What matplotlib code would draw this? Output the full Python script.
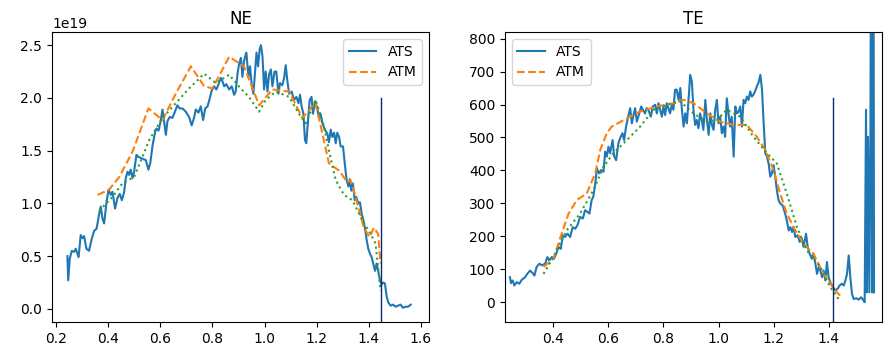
import numpy as np
import matplotlib
matplotlib.use("Agg")
import matplotlib.pyplot as plt

# ---- NE panel (values in 1e19) ----
ne_ats_x = [0.243, 0.246, 0.252, 0.26, 0.269, 0.275, 0.286, 0.294, 0.301, 0.307, 0.316, 0.326,
            0.337, 0.346, 0.355, 0.365, 0.371, 0.378, 0.384, 0.393, 0.401, 0.41, 0.416, 0.426,
            0.435, 0.444, 0.452, 0.461, 0.467, 0.474, 0.48, 0.486, 0.493, 0.499, 0.508, 0.516,
            0.525, 0.534, 0.544, 0.554, 0.561, 0.57, 0.58, 0.585, 0.593, 0.601, 0.608, 0.614,
            0.621, 0.627, 0.636, 0.646, 0.656, 0.665, 0.674, 0.685, 0.697, 0.71, 0.72, 0.729,
            0.736, 0.746, 0.755, 0.764, 0.772, 0.781, 0.79, 0.797, 0.806, 0.815, 0.823, 0.832,
            0.838, 0.845, 0.853, 0.864, 0.874, 0.883, 0.889, 0.896, 0.902, 0.909, 0.915, 0.921,
            0.930, 0.938, 0.944, 0.951, 0.957, 0.963, 0.969, 0.975, 0.981, 0.986, 0.992, 0.998,
            1.004, 1.011, 1.017, 1.024, 1.030, 1.038, 1.045, 1.053, 1.059, 1.068, 1.075, 1.081,
            1.087, 1.094, 1.104, 1.113, 1.122, 1.130, 1.136, 1.142, 1.149, 1.155, 1.160, 1.167,
            1.173, 1.180, 1.186, 1.194, 1.203, 1.209, 1.215, 1.222, 1.231, 1.241, 1.247, 1.254,
            1.260, 1.267, 1.273, 1.279, 1.286, 1.292, 1.301, 1.309, 1.315, 1.322, 1.327, 1.333,
            1.339, 1.346, 1.352, 1.360, 1.366, 1.373, 1.379, 1.385, 1.392, 1.398, 1.405, 1.411,
            1.417, 1.424, 1.430, 1.436, 1.443, 1.449, 1.456, 1.462, 1.469, 1.475, 1.484, 1.493,
            1.503, 1.513, 1.522, 1.531, 1.541, 1.551, 1.561]
ne_ats_y = [0.50, 0.27, 0.475, 0.55, 0.54, 0.57, 0.49, 0.70, 0.67, 0.69, 0.57, 0.55,
            0.67, 0.74, 0.76, 0.90, 0.97, 0.85, 0.81, 1.01, 1.13, 1.08, 1.11, 0.95,
            1.05, 1.09, 1.03, 1.11, 1.24, 1.30, 1.27, 1.32, 1.24, 1.30, 1.46, 1.44,
            1.43, 1.42, 1.41, 1.32, 1.38, 1.55, 1.68, 1.71, 1.69, 1.78, 1.89, 1.78,
            1.65, 1.78, 1.82, 1.81, 1.87, 1.93, 1.90, 1.90, 1.87, 1.82, 1.74, 1.81,
            1.89, 1.86, 1.92, 1.79, 1.90, 1.92, 2.00, 2.07, 2.11, 2.08, 2.13, 2.19,
            2.16, 2.11, 2.13, 2.08, 2.11, 2.03, 2.06, 2.23, 2.32, 2.38, 2.20, 2.35,
            2.43, 2.20, 2.30, 2.11, 2.04, 2.23, 2.43, 2.30, 2.46, 2.50, 2.39, 2.08,
            2.25, 2.06, 2.22, 2.27, 2.11, 2.25, 2.25, 2.04, 2.14, 2.12, 2.19, 2.31,
            2.17, 2.04, 2.06, 1.98, 2.01, 1.95, 2.03, 1.92, 1.85, 1.60, 1.57, 1.79,
            1.98, 2.01, 1.85, 1.97, 1.89, 1.81, 1.85, 1.76, 1.70, 1.66, 1.58, 1.70,
            1.63, 1.67, 1.57, 1.67, 1.63, 1.54, 1.54, 1.35, 1.22, 1.16, 1.23, 1.12,
            1.19, 1.03, 1.06, 1.00, 1.01, 0.90, 0.84, 0.77, 0.65, 0.57, 0.52, 0.49,
            0.43, 0.36, 0.43, 0.36, 0.27, 0.23, 0.25, 0.24, 0.11, 0.06, 0.03, 0.04,
            0.02, 0.03, 0.04, 0.01, 0.02, 0.02, 0.04]

ne_atm_x = [0.359, 0.403, 0.442, 0.493, 0.554, 0.608, 0.659, 0.717, 0.768, 0.800, 0.864,
            0.921, 0.979, 1.030, 1.094, 1.145, 1.196, 1.247, 1.286, 1.318, 1.330, 1.345,
            1.381, 1.403, 1.420, 1.436, 1.445]
ne_atm_y = [1.08, 1.13, 1.25, 1.49, 1.90, 1.79, 2.04, 2.30, 2.11, 2.09, 2.39,
            2.30, 1.93, 2.08, 2.06, 1.81, 1.95, 1.38, 1.31, 1.20, 1.22, 1.10,
            0.77, 0.68, 0.77, 0.71, 0.43]

ne_fit_x = [0.365, 0.416, 0.454, 0.499, 0.531, 0.557, 0.608, 0.659, 0.710, 0.768, 0.813,
            0.864, 0.908, 0.940, 0.979, 1.004, 1.043, 1.094, 1.132, 1.158, 1.196, 1.228,
            1.247, 1.273, 1.305, 1.337, 1.375, 1.407, 1.426, 1.445]
ne_fit_y = [0.93, 1.06, 1.19, 1.25, 1.44, 1.60, 1.81, 1.95, 2.09, 2.23, 2.14,
            2.22, 2.09, 2.01, 1.87, 1.98, 2.06, 2.01, 1.85, 1.76, 1.98, 1.73,
            1.50, 1.22, 1.08, 1.03, 0.84, 0.71, 0.62, 0.17]

ne_sep_x = 1.445
ne_sep_top = 2.0

# ---- TE panel ----
te_ats_x = [0.242, 0.246, 0.252, 0.258, 0.267, 0.276, 0.285, 0.297, 0.305, 0.315, 0.325, 0.331,
            0.339, 0.349, 0.358, 0.370, 0.378, 0.385, 0.394, 0.402, 0.41, 0.418, 0.427, 0.434,
            0.442, 0.451, 0.461, 0.47, 0.479, 0.487, 0.497, 0.507, 0.515, 0.524, 0.531, 0.539,
            0.545, 0.552, 0.558, 0.566, 0.573, 0.582, 0.588, 0.594, 0.60, 0.606, 0.615, 0.621,
            0.628, 0.636, 0.642, 0.651, 0.657, 0.664, 0.673, 0.679, 0.685, 0.691, 0.697, 0.703,
            0.712, 0.719, 0.725, 0.733, 0.739, 0.745, 0.754, 0.761, 0.770, 0.776, 0.782, 0.788,
            0.794, 0.80, 0.806, 0.812, 0.818, 0.824, 0.830, 0.836, 0.842, 0.848, 0.855, 0.861,
            0.867, 0.873, 0.879, 0.885, 0.891, 0.897, 0.903, 0.909, 0.915, 0.921, 0.927, 0.933,
            0.939, 0.945, 0.952, 0.958, 0.964, 0.970, 0.976, 0.982, 0.988, 0.994, 1.0, 1.006,
            1.012, 1.018, 1.024, 1.030, 1.036, 1.042, 1.048, 1.055, 1.061, 1.067, 1.073, 1.079,
            1.085, 1.091, 1.097, 1.103, 1.109, 1.115, 1.121, 1.127, 1.133, 1.139, 1.145, 1.152,
            1.158, 1.164, 1.170, 1.176, 1.182, 1.188, 1.194, 1.20, 1.206, 1.212, 1.218, 1.224,
            1.233, 1.242, 1.248, 1.255, 1.261, 1.267, 1.273, 1.279, 1.287, 1.295, 1.303, 1.309,
            1.318, 1.324, 1.331, 1.339, 1.345, 1.352, 1.358, 1.364, 1.370, 1.376, 1.382, 1.388,
            1.394, 1.40, 1.406, 1.416, 1.424, 1.433, 1.44, 1.448, 1.455, 1.461, 1.467, 1.473,
            1.479, 1.485, 1.491, 1.501, 1.509, 1.518, 1.525, 1.531, 1.536, 1.539, 1.543, 1.548,
            1.552, 1.555, 1.558, 1.562, 1.565]
te_ats_y = [76, 58, 66, 51, 61, 56, 68, 76, 86, 96, 88, 81,
            107, 117, 112, 117, 137, 127, 137, 132, 147, 168, 162, 203,
            198, 208, 198, 228, 223, 233, 259, 254, 279, 274, 269, 310,
            320, 360, 406, 391, 401, 396, 457, 442, 472, 452, 492, 442,
            431, 482, 497, 513, 492, 533, 568, 589, 543, 568, 589, 548,
            573, 594, 584, 573, 589, 584, 563, 594, 599, 573, 604, 584,
            563, 594, 568, 604, 589, 573, 599, 584, 645, 645, 614, 650,
            584, 533, 573, 543, 614, 690, 670, 584, 538, 553, 528, 573,
            553, 523, 614, 553, 508, 573, 538, 523, 584, 614, 543, 563,
            513, 533, 502, 619, 573, 533, 563, 442, 594, 573, 578, 594,
            533, 614, 604, 624, 614, 640, 624, 630, 640, 655, 665, 690,
            645, 543, 452, 442, 421, 381, 391, 416, 381, 340, 310, 300,
            294, 269, 249, 218, 228, 213, 228, 198, 203, 183, 193, 168,
            208, 168, 147, 132, 147, 117, 86, 107, 96, 76, 96, 66,
            122, 76, 61, 46, 36, 41, 51, 56, 51, 66, 86, 142,
            76, 25, 10, 12, 8, 15, 8, 0, 584, 30, 502, 30,
            513, 1500, 30, 2000, 30]

te_atm_x = [0.364, 0.40, 0.424, 0.455, 0.485, 0.521, 0.552, 0.570, 0.594, 0.612, 0.667,
            0.715, 0.776, 0.836, 0.873, 0.909, 0.958, 1.006, 1.055, 1.103, 1.139, 1.170,
            1.20, 1.224, 1.248, 1.279, 1.309, 1.345, 1.382, 1.412, 1.430, 1.442]
te_atm_y = [107, 132, 193, 269, 310, 330, 391, 462, 513, 533, 558,
            579, 594, 604, 614, 604, 573, 548, 538, 538, 502, 462,
            401, 330, 269, 218, 178, 147, 86, 51, 30, 20]

te_fit_x = [0.364, 0.40, 0.448, 0.497, 0.545, 0.582, 0.618, 0.667, 0.715, 0.764, 0.812,
            0.861, 0.909, 0.958, 0.994, 1.030, 1.079, 1.127, 1.176, 1.212, 1.248, 1.285,
            1.321, 1.370, 1.406, 1.436]
te_fit_y = [86, 137, 218, 269, 340, 411, 452, 492, 533, 584, 599,
            609, 573, 548, 553, 584, 563, 502, 452, 421, 330, 228,
            157, 107, 46, 10]

te_sep_x = 1.416
te_sep_top = 620

sep_color = "#0b2a6b"

fig = plt.figure(figsize=(8.85, 3.43), dpi=100)
ax1 = fig.add_axes([0.0588, 0.0612, 0.4259, 0.8455])
ax2 = fig.add_axes([0.5706, 0.0612, 0.4260, 0.8455])

# NE
ax1.plot(ne_ats_x, np.array(ne_ats_y) * 1e19, label="ATS")
ax1.plot(ne_atm_x, np.array(ne_atm_y) * 1e19, "--", label="ATM")
ax1.plot(ne_fit_x, np.array(ne_fit_y) * 1e19, ":")
ax1.set_xlim(0.184, 1.631)
ax1.set_ylim(-0.125e19, 2.625e19)
y0, y1 = ax1.get_ylim()
ax1.axvline(ne_sep_x, ymin=0, ymax=(ne_sep_top * 1e19 - y0) / (y1 - y0), color=sep_color, lw=1)
ax1.set_xticks([0.2, 0.4, 0.6, 0.8, 1.0, 1.2, 1.4, 1.6])
ax1.set_title("NE")
ax1.legend(loc="upper right")

# TE
ax2.plot(te_ats_x, te_ats_y, label="ATS")
ax2.plot(te_atm_x, te_atm_y, "--", label="ATM")
ax2.plot(te_fit_x, te_fit_y, ":")
ax2.set_xlim(0.224, 1.594)
ax2.set_ylim(-60, 820)
y0, y1 = ax2.get_ylim()
ax2.axvline(te_sep_x, ymin=0, ymax=(te_sep_top - y0) / (y1 - y0), color=sep_color, lw=1)
ax2.set_xticks([0.4, 0.6, 0.8, 1.0, 1.2, 1.4])
ax2.set_title("TE")
ax2.legend(loc="upper left")

fig.savefig("out.png", dpi=100)
